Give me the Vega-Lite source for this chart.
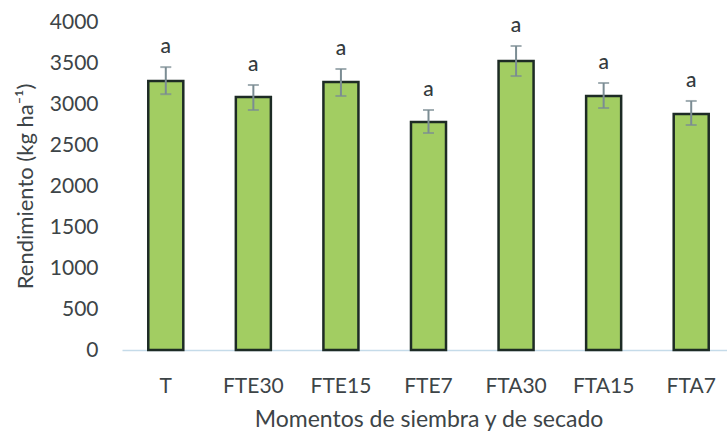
{
  "$schema": "https://vega.github.io/schema/vega-lite/v6.json",
  "autosize": {"type": "none"},
  "padding": {"left": 122, "top": 22, "right": 0, "bottom": 82},
  "width": 613,
  "height": 328,
  "background": "white",
  "config": {
    "view": {"stroke": null},
    "font": "Lato",
    "axis": {"labelColor": "#3d4447", "titleColor": "#3d4447", "labelFont": "Lato", "titleFont": "Lato", "titleFontWeight": "normal"}
  },
  "data": {
    "values": [
      {"tratamiento": "T", "rendimiento": 3280, "inferior": 3120, "superior": 3450, "grupo": "a"},
      {"tratamiento": "FTE30", "rendimiento": 3085, "inferior": 2927, "superior": 3232, "grupo": "a"},
      {"tratamiento": "FTE15", "rendimiento": 3268, "inferior": 3098, "superior": 3427, "grupo": "a"},
      {"tratamiento": "FTE7", "rendimiento": 2780, "inferior": 2646, "superior": 2927, "grupo": "a"},
      {"tratamiento": "FTA30", "rendimiento": 3524, "inferior": 3341, "superior": 3707, "grupo": "a"},
      {"tratamiento": "FTA15", "rendimiento": 3098, "inferior": 2951, "superior": 3256, "grupo": "a"},
      {"tratamiento": "FTA7", "rendimiento": 2878, "inferior": 2744, "superior": 3037, "grupo": "a"}
    ]
  },
  "encoding": {
    "x": {
      "field": "tratamiento",
      "type": "nominal",
      "sort": null,
      "scale": {"paddingInner": 0.6, "paddingOuter": 0.3},
      "axis": {
        "title": "Momentos de siembra y de secado",
        "labelAngle": 0,
        "labelFontSize": 21,
        "titleFontSize": 23,
        "ticks": false,
        "labelPadding": 25,
        "titlePadding": 12,
        "domainColor": "#c5dbe9",
        "domainWidth": 1.5
      }
    }
  },
  "layer": [
    {
      "mark": {"type": "bar", "fill": "#a2cd62", "stroke": "#1d2b25", "strokeWidth": 2.5},
      "encoding": {
        "y": {
          "field": "rendimiento",
          "type": "quantitative",
          "scale": {"domain": [0, 4000]},
          "axis": {
            "title": "Rendimiento (kg ha⁻¹)",
            "format": "d",
            "values": [0, 500, 1000, 1500, 2000, 2500, 3000, 3500, 4000],
            "labelFontSize": 21,
            "titleFontSize": 22,
            "grid": false,
            "domain": false,
            "ticks": false,
            "labelPadding": 24,
            "titlePadding": 12
          }
        }
      }
    },
    {
      "mark": {"type": "rule", "color": "#7b8c93", "strokeWidth": 2},
      "encoding": {
        "y": {"field": "inferior", "type": "quantitative"},
        "y2": {"field": "superior"}
      }
    },
    {
      "mark": {"type": "tick", "color": "#7b8c93", "thickness": 2, "size": 11, "orient": "horizontal"},
      "encoding": {"y": {"field": "superior", "type": "quantitative"}}
    },
    {
      "mark": {"type": "tick", "color": "#7b8c93", "thickness": 2, "size": 11, "orient": "horizontal"},
      "encoding": {"y": {"field": "inferior", "type": "quantitative"}}
    },
    {
      "mark": {"type": "text", "baseline": "bottom", "dy": -10, "fontSize": 21, "fontWeight": 500, "color": "#333a3d"},
      "encoding": {
        "y": {"field": "superior", "type": "quantitative"},
        "text": {"field": "grupo"}
      }
    }
  ]
}
